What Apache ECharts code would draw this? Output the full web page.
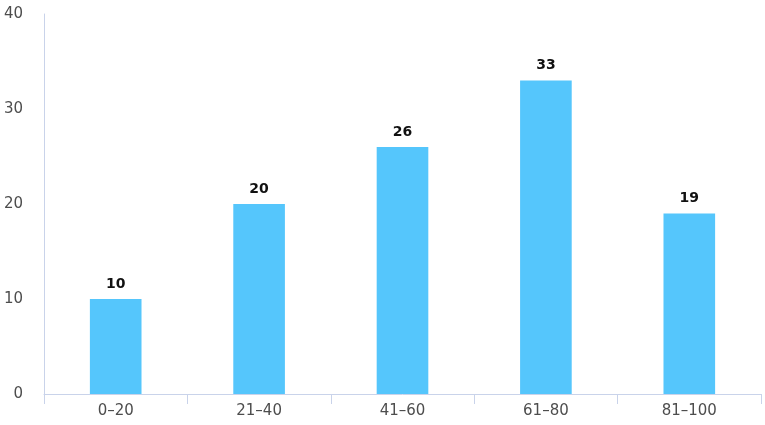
<!DOCTYPE html>
<html><head><meta charset="utf-8">
<script src="https://cdn.jsdelivr.net/npm/echarts@6/dist/echarts.min.js"></script>
<style>html,body{margin:0;padding:0;background:#fff}#c{width:765px;height:425px}</style>
</head><body><div id="c"></div>
<script>
const categories = ['0–20', '21–40', '41–60', '61–80', '81–100'];
const values = [10, 20, 26, 33, 19];
const yTicks = [0, 10, 20, 30, 40];

const chart = echarts.init(document.getElementById('c'));
chart.setOption({
  animation: false,
  grid: {left: 44, right: 4, top: 14, bottom: 31, containLabel: false},
  xAxis: {
    type: 'category', data: categories,
    axisLine: {lineStyle: {color: '#c9d3ea', width: 1}},
    axisTick: {show: true, length: 10, lineStyle: {color: '#c9d3ea'}},
    axisLabel: {color: '#4d4d4d', fontSize: 15, fontFamily: 'DejaVu Sans', margin: 10}
  },
  yAxis: {
    type: 'value', min: yTicks[0], max: yTicks[yTicks.length-1], interval: 10,
    axisLine: {show: true, lineStyle: {color: '#c9d3ea', width: 1}},
    axisTick: {show: false},
    splitLine: {show: false},
    axisLabel: {color: '#4d4d4d', fontSize: 15, fontFamily: 'DejaVu Sans', margin: 21}
  },
  series: [{
    type: 'bar', data: values, barWidth: '36%',
    itemStyle: {color: '#55c6fc'},
    label: {show: true, position: 'top', color: '#111', fontWeight: 'bold', fontSize: 14, fontFamily: 'DejaVu Sans', distance: 8}
  }]
});
</script></body></html>
